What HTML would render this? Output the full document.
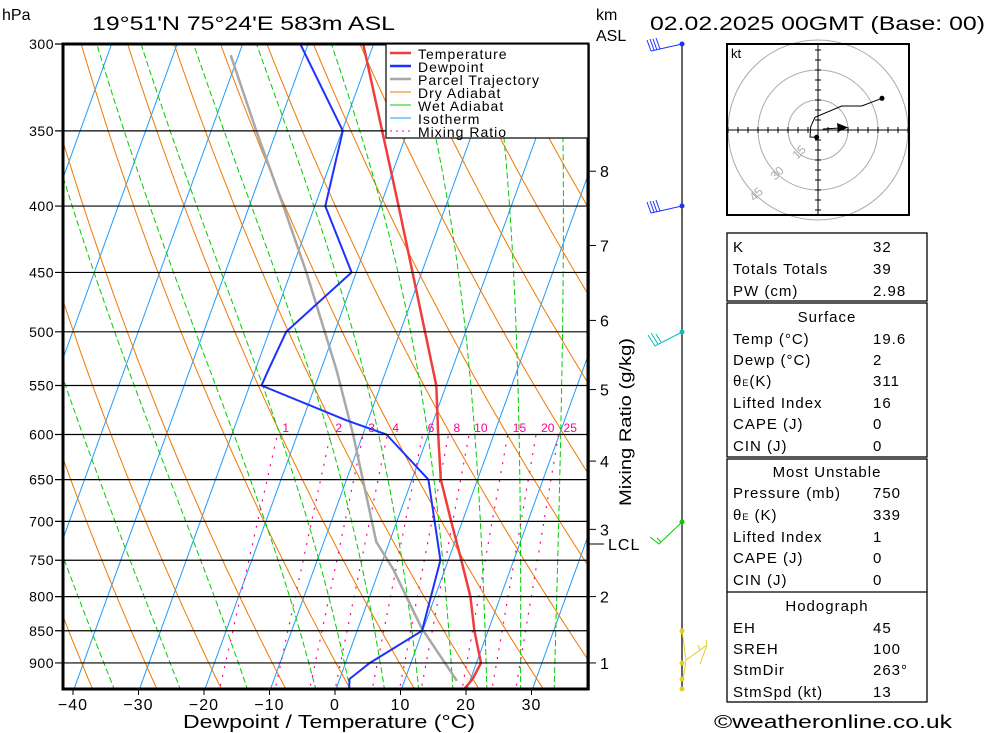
<!DOCTYPE html>
<html><head><meta charset="utf-8"><style>
html,body{margin:0;padding:0;background:#fff;}
svg{display:block;font-family:"Liberation Sans",sans-serif;}
</style></head><body>
<svg id="chart" width="1000" height="733" viewBox="0 0 1000 733">
<defs><clipPath id="plotclip"><rect x="63" y="44" width="525" height="645"/></clipPath></defs>
<g id="grid" clip-path="url(#plotclip)"></g>
<g id="series" clip-path="url(#plotclip)"></g>
<g id="axes"></g>
<g id="extra"></g>
</svg>
<script>
// ---- data ----
const isobars = [300,350,400,450,500,550,600,650,700,750,800,850,900];
const tempTicks = [-40,-30,-20,-10,0,10,20,30];
const tempP = [300,400,550,600,650,700,750,800,850,900,926,942];
const tempT = [-31.6,-17.2,-1.5,1.5,4.4,8.3,12.0,15.4,17.9,20.7,20.3,19.6];
const dewP = [300,350,400,450,500,535,550,585,600,650,750,850,900,926,942];
const dewT = [-41.2,-29.9,-28.4,-20.7,-27.4,-28.0,-28.2,-13.3,-6.4,2.5,8.8,9.9,3.7,1.5,2.0];
const parP = [306,350,400,450,535,600,726,762,846,929];
const parT = [-51.2,-43.1,-34.8,-27.6,-17.6,-11.5,-2.0,2.1,9.7,18.0];
const mixRatios = [1,2,3,4,6,8,10,15,20,25];
const kmLabels = ['1','2','3','4','5','6','7','8'];
const kmPress = [900,800,710,629,554,490,429,376];
const dryThetas = [];for(let t=230;t<=500;t+=10)dryThetas.push(t);
const wetThetas = [-30,-20,-10,0,5,10,15,20,25,30,35];

// ---- scales ----
const PB=942, Y0=689, YS=563.4, X0=336, XS=6.55, SK=0.363;
function yP(p){return 44+YS*Math.log(p/300);}
function xT(t,p){return X0+XS*t+SK*(Y0-yP(p));}
const NS='http://www.w3.org/2000/svg';
function mk(tag,attrs,parent){const e=document.createElementNS(NS,tag);for(const k in attrs)e.setAttribute(k,attrs[k]);parent.appendChild(e);return e;}
const grid=document.getElementById('grid'),series=document.getElementById('series'),axes=document.getElementById('axes'),extra=document.getElementById('extra');

// isotherms
for(let t=-110;t<=50;t+=10){
  const l=mk('line',{x1:xT(t,PB),y1:yP(PB),x2:xT(t,300),y2:yP(300),stroke:'#1e9bff','stroke-width':1},grid);
  
  
}
// dry adiabats
dryThetas.forEach(th=>{
  let d='';for(let p=PB;p>=290;p-=8){const T=th*Math.pow(p/1000,0.2857)-273.15;d+=(d?'L':'M')+xT(T,p).toFixed(1)+','+yP(p).toFixed(1);}
  const e=mk('path',{d:d,fill:'none',stroke:'#f07800','stroke-width':1},grid);
  
  
});
// wet adiabats
function es(tc){return 6.112*Math.exp(17.67*tc/(tc+243.5));}
wetThetas.forEach(tw=>{
  let T=tw+273.15,p=1000,pts=[];
  while(p>=290){
    if(p<=PB+5)pts.push([xT(T-273.15,p),yP(p)]);
    const e=es(T-273.15),rs=0.622*e/(p-e);
    const dTdp=(287*T+2.5e6*rs)/(p*(1004+2.5e6*2.5e6*rs*0.622/(287*T*T)));
    T-=dTdp*2;p-=2;
  }
  const e=mk('path',{d:'M'+pts.map(q=>q[0].toFixed(1)+','+q[1].toFixed(1)).join('L'),fill:'none',stroke:'#00cc00','stroke-width':1,'stroke-dasharray':'6,3'},grid);
  
  
});
// mixing ratio
function tdFromW(w,p){const e=w/1000*p/(0.622+w/1000);const l=Math.log(e/6.112);return 243.5*l/(17.67-l);}
mixRatios.forEach(w=>{
  const e=mk('line',{x1:xT(tdFromW(w,PB),PB-5),y1:yP(PB-5),x2:xT(tdFromW(w,600),600),y2:yP(600),stroke:'#ff0090','stroke-width':1.2,'stroke-dasharray':'2,7'},grid);
  
  
  const t=mk('text',{x:xT(tdFromW(w,600),600)+5,y:432,fill:'#ff0090','font-size':12,'text-anchor':'start'},axes);
  t.textContent=w;
  
  
});
// isobars
isobars.forEach(p=>{
  const l=mk('line',{x1:55,y1:yP(p),x2:588,y2:yP(p),stroke:'#000','stroke-width':1.2},axes);
  
  
  const t=mk('text',{x:54,y:yP(p)+5,'font-size':14,'text-anchor':'end',fill:'#000','letter-spacing':'0.5'},axes);
  t.textContent=p;
  
  
});
// temp ticks
tempTicks.forEach(t=>{
  const x=X0+XS*t-1;
  const l=mk('line',{x1:x,y1:689,x2:x,y2:695,stroke:'#000','stroke-width':1},axes);
  
  
  const tx=mk('text',{x:x,y:710,'font-size':16,'text-anchor':'middle',fill:'#000','letter-spacing':'1'},axes);
  tx.textContent=(t<0?'\u2212'+(-t):t);
  
  
});
// km labels
kmLabels.forEach((k,i)=>{
  const y=yP(kmPress[i]);
  mk('line',{x1:588,y1:y,x2:596,y2:y,stroke:'#000'},axes);
  const t=mk('text',{x:600,y:y+6,'font-size':16,fill:'#000'},axes);
  t.textContent=k;
  
  
});
// profiles
function prof(P,T,color,w,name){
  const d='M'+P.map((p,i)=>xT(T[i],p).toFixed(1)+','+yP(p).toFixed(1)).join('L');
  const e=mk('path',{d:d,fill:'none',stroke:color,'stroke-width':w,'stroke-linejoin':'round'},series);
  
  
}
prof(parP,parT,'#a8a8a8',2.5,'parcel-trajectory-line');
prof(dewP,dewT,'#1e32ff',2,'dewpoint-line');
prof(tempP,tempT,'#f03c3c',2.5,'temperature-line');
</script>
<svg style="position:absolute;left:0;top:0" width="1000" height="733" viewBox="0 0 1000 733">
<g font-family="Liberation Sans, sans-serif" fill="#000">
<rect x="63" y="44" width="525" height="645" fill="none" stroke="#000" stroke-width="3"/>
<line x1="589" y1="44" x2="589" y2="690" stroke="#000" stroke-width="1.5"/>
<line x1="588" y1="544" x2="604" y2="544" stroke="#000"/>
<text x="608" y="550" font-size="16" letter-spacing="1">LCL</text>
<text x="2" y="20" font-size="16">hPa</text>
<text x="92" y="30" font-size="19" textLength="303" lengthAdjust="spacingAndGlyphs">19°51'N 75°24'E 583m ASL</text>
<text x="596" y="20" font-size="16">km</text>
<text x="596" y="41" font-size="16">ASL</text>
<text x="650" y="30" font-size="19" textLength="335" lengthAdjust="spacingAndGlyphs">02.02.2025 00GMT (Base: 00)</text>
<text x="183" y="728" font-size="18" textLength="292" lengthAdjust="spacingAndGlyphs">Dewpoint / Temperature (°C)</text>
<text transform="translate(631,506) rotate(-90)" font-size="17" textLength="168" lengthAdjust="spacingAndGlyphs">Mixing Ratio (g/kg)</text>
<!-- legend -->
<g>
<rect x="386" y="44" width="202" height="94" fill="#fff" stroke="#000" stroke-width="1.2"/>
<line x1="390" y1="53" x2="411" y2="53" stroke="#f03c3c" stroke-width="2.5"/>
<line x1="390" y1="66" x2="411" y2="66" stroke="#1e32ff" stroke-width="2.5"/>
<line x1="390" y1="79" x2="411" y2="79" stroke="#a8a8a8" stroke-width="2.5"/>
<line x1="390" y1="92" x2="411" y2="92" stroke="#f07800" stroke-width="1"/>
<line x1="390" y1="105" x2="411" y2="105" stroke="#00cc00" stroke-width="1"/>
<line x1="390" y1="118" x2="411" y2="118" stroke="#1e9bff" stroke-width="1"/>
<line x1="390" y1="131" x2="411" y2="131" stroke="#ff0090" stroke-width="1" stroke-dasharray="2,4"/>
<g font-size="14" letter-spacing="1">
<text x="418" y="59">Temperature</text>
<text x="418" y="72">Dewpoint</text>
<text x="418" y="85">Parcel Trajectory</text>
<text x="418" y="98">Dry Adiabat</text>
<text x="418" y="111">Wet Adiabat</text>
<text x="418" y="124">Isotherm</text>
<text x="418" y="137">Mixing Ratio</text>
</g></g>
<!-- wind column -->
<g>
<line x1="682" y1="44" x2="682" y2="689" stroke="#000" stroke-width="1.2"/>
<g stroke="#1e32ff" fill="none" stroke-width="1"><path d="M682,44 L651,51 M651,51 L647,40 M654,50 L650,39 M657,50 L653,39 M660,49 L656,38"/><path d="M682,206 L651,213 M651,213 L647,202 M654,212 L650,201 M657,212 L653,201 M660,211 L656,200"/></g>
<circle cx="682" cy="44" r="2.5" fill="#1e32ff"/><circle cx="682" cy="206" r="2.5" fill="#1e32ff"/>
<g stroke="#00c0c0" fill="none"><path d="M682,332 L655,346 L648,335 M658,344 L651,333 M661,342 L656,334"/></g>
<circle cx="682" cy="332" r="2.5" fill="#00c0c0"/>
<g stroke="#00cc00" fill="none"><path d="M682,522 L659,544 L650,537 M661,542 L657,538"/></g>
<circle cx="682" cy="522" r="2.5" fill="#00cc00"/>
<g stroke="#e0d020" fill="none"><path d="M682,631 L686,660 L683,680 M686,660 L707,645 L706,640 M700,650 L698,645 M707,645 L700,664"/></g>
<g fill="#e0d020"><circle cx="682" cy="631" r="2.5"/><circle cx="682" cy="663" r="2.5"/><circle cx="682" cy="679" r="2.5"/><circle cx="682" cy="689" r="2.5"/></g>
</g>
<!-- hodograph -->
<g>
<rect x="727" y="44" width="182" height="171" fill="#fff" stroke="#000" stroke-width="2"/>
<g fill="none" stroke="#aaa"><circle cx="818" cy="130" r="30"/><circle cx="818" cy="130" r="60"/><circle cx="818" cy="130" r="90"/></g>
<rect x="727" y="44" width="182" height="171" fill="none" stroke="#000" stroke-width="2"/>
<line x1="728" y1="130" x2="908" y2="130" stroke="#000"/><line x1="818" y1="45" x2="818" y2="214" stroke="#000"/>
<g stroke="#000" id="hticks"></g>
<g fill="#aaa" font-size="12"><text x="792" y="157" transform="rotate(-45 798 152)">15</text><text x="770" y="178" transform="rotate(-45 776 173)">30</text><text x="749" y="199" transform="rotate(-45 755 194)">45</text></g>
<text x="731" y="58" font-size="13">kt</text>
<path d="M816.7,137.3 L810,137 L810.7,126.7 L815,117.3 L841.7,106 L861.7,106 L882,98.3" fill="none" stroke="#000"/>
<circle cx="816.7" cy="137.3" r="2.5"/><circle cx="882" cy="98.3" r="2.5"/>
<line x1="823" y1="129" x2="840" y2="128" stroke="#000"/><path d="M848,127.5 L837,123 L838,132 Z"/>
</g>
<!-- table -->
<g font-size="15" letter-spacing="1">
<g fill="none" stroke="#000" stroke-width="1.3"><rect x="727" y="233" width="200" height="68"/><rect x="727" y="303" width="200" height="154"/><rect x="727" y="459" width="200" height="243"/><line x1="727" y1="592" x2="927" y2="592"/></g>
<text x="733" y="252">K</text><text x="873" y="252">32</text>
<text x="733" y="274">Totals Totals</text><text x="873" y="274">39</text>
<text x="733" y="296">PW (cm)</text><text x="873" y="296">2.98</text>
<text x="827" y="322" text-anchor="middle">Surface</text>
<text x="733" y="344">Temp (°C)</text><text x="873" y="344">19.6</text>
<text x="733" y="365">Dewp (°C)</text><text x="873" y="365">2</text>
<text x="733" y="386">θ<tspan font-size="9">E</tspan>(K)</text><text x="873" y="386">311</text>
<text x="733" y="408">Lifted Index</text><text x="873" y="408">16</text>
<text x="733" y="429">CAPE (J)</text><text x="873" y="429">0</text>
<text x="733" y="451">CIN (J)</text><text x="873" y="451">0</text>
<text x="827" y="477" text-anchor="middle">Most Unstable</text>
<text x="733" y="498">Pressure (mb)</text><text x="873" y="498">750</text>
<text x="733" y="520">θ<tspan font-size="9">E</tspan> (K)</text><text x="873" y="520">339</text>
<text x="733" y="542">Lifted Index</text><text x="873" y="542">1</text>
<text x="733" y="563">CAPE (J)</text><text x="873" y="563">0</text>
<text x="733" y="585">CIN (J)</text><text x="873" y="585">0</text>
<text x="827" y="611" text-anchor="middle">Hodograph</text>
<text x="733" y="633">EH</text><text x="873" y="633">45</text>
<text x="733" y="654">SREH</text><text x="873" y="654">100</text>
<text x="733" y="675">StmDir</text><text x="873" y="675">263°</text>
<text x="733" y="697">StmSpd (kt)</text><text x="873" y="697">13</text>
</g>
<text x="714" y="728" font-size="18" textLength="238" lengthAdjust="spacingAndGlyphs">©weatheronline.co.uk</text>
</g></svg>
<script>
const ht=document.getElementById('hticks');
for(let i=-9;i<=9;i++){if(!i)continue;
 const a=document.createElementNS('http://www.w3.org/2000/svg','line');
 a.setAttribute('x1',818+i*10);a.setAttribute('x2',818+i*10);a.setAttribute('y1',127);a.setAttribute('y2',133);ht.appendChild(a);
 if(Math.abs(i)<=8){const b=document.createElementNS('http://www.w3.org/2000/svg','line');
 b.setAttribute('y1',130+i*10);b.setAttribute('y2',130+i*10);b.setAttribute('x1',815);b.setAttribute('x2',821);ht.appendChild(b);}
}
</script>
</body></html>
